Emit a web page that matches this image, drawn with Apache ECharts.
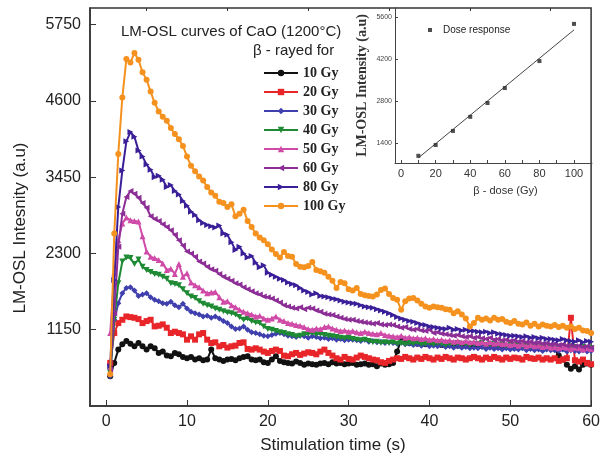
<!DOCTYPE html>
<html>
<head>
<meta charset="utf-8">
<script src="https://cdn.jsdelivr.net/npm/echarts@6/dist/echarts.min.js"></script>
<style>
html, body { margin: 0; padding: 0; background: #fff; }
#chart { width: 603px; height: 458px; }
</style>
</head>
<body>
<div id="chart"></div>
<script>
// stimulation time (s), one reading every 0.5 s
const times = [
  0.5, 1, 1.5, 2, 2.5, 3, 3.5, 4, 4.5, 5,
  5.5, 6, 6.5, 7, 7.5, 8, 8.5, 9, 9.5, 10,
  10.5, 11, 11.5, 12, 12.5, 13, 13.5, 14, 14.5, 15,
  15.5, 16, 16.5, 17, 17.5, 18, 18.5, 19, 19.5, 20,
  20.5, 21, 21.5, 22, 22.5, 23, 23.5, 24, 24.5, 25,
  25.5, 26, 26.5, 27, 27.5, 28, 28.5, 29, 29.5, 30,
  30.5, 31, 31.5, 32, 32.5, 33, 33.5, 34, 34.5, 35,
  35.5, 36, 36.5, 37, 37.5, 38, 38.5, 39, 39.5, 40,
  40.5, 41, 41.5, 42, 42.5, 43, 43.5, 44, 44.5, 45,
  45.5, 46, 46.5, 47, 47.5, 48, 48.5, 49, 49.5, 50,
  50.5, 51, 51.5, 52, 52.5, 53, 53.5, 54, 54.5, 55,
  55.5, 56, 56.5, 57, 57.5, 58, 58.5, 59, 59.5, 60
];

const gy10 = [
  450, 650, 850, 930, 980, 940, 900, 950, 900, 850,
  900, 870, 800, 820, 760, 750, 800, 780, 740, 720,
  740, 700, 720, 690, 700, 850, 720, 700, 680, 700,
  710, 690, 720, 740, 750, 700, 690, 700, 660, 650,
  700, 750, 680, 660, 650, 640, 670, 650, 620, 640,
  630, 620, 640, 650, 630, 660, 640, 650, 630, 640,
  650, 620, 630, 640, 620, 630, 600, 640, 620, 630,
  650, 820, 1000, 980, 950, 970, 940, 960, 930, 950,
  940, 960, 920, 950, 930, 940, 910, 930, 920, 940,
  910, 930, 900, 920, 910, 930, 900, 910, 890, 920,
  900, 910, 890, 900, 880, 900, 890, 880, 870, 890,
  860, 760, 700, 620, 560, 600, 550, 620, 640, 620
];
const gy20 = [
  650, 1100, 1250, 1300, 1350, 1340, 1330, 1310, 1250, 1280,
  1300, 1200, 1210, 1230, 1180, 1100, 1120, 1100, 1080, 1000,
  1050, 1000, 1080, 1100, 1000, 950, 960, 900, 920, 880,
  900, 910, 950, 960, 860, 850, 870, 850, 820, 800,
  830, 850, 830, 760, 750, 780, 800, 770, 790, 810,
  800, 780, 820, 850, 800, 760, 720, 700, 740, 710,
  700, 730, 760, 740, 720, 700, 690, 660, 650, 680,
  700, 720, 710, 740, 720, 700, 730, 710, 740, 720,
  700, 730, 710, 740, 720, 700, 730, 720, 700, 720,
  740, 720, 700, 730, 710, 740, 720, 700, 730, 710,
  730, 720, 700, 740, 720, 710, 730, 700, 720, 700,
  720, 680, 700, 720, 1330, 690, 670, 700, 650, 630
];
const gy30 = [
  450, 1300, 1550, 1700, 1780, 1790, 1740, 1660, 1680, 1700,
  1640, 1600, 1580, 1550, 1540, 1570, 1520, 1490, 1540, 1470,
  1420, 1400, 1380, 1350, 1360, 1330, 1350, 1320, 1280, 1250,
  1200, 1160, 1170, 1200, 1150, 1110, 1100, 1080, 1060, 1050,
  1070, 1090, 1100, 1080, 1060, 1050, 1040, 1060, 1050, 1030,
  1050, 1040, 1020, 1030, 1010, 1020, 1000, 1010, 990, 1000,
  1000, 990, 980, 1000, 970, 980, 960, 970, 950, 960,
  950, 940, 960, 930, 940, 920, 930, 910, 930, 900,
  910, 900, 920, 890, 900, 880, 900, 880, 890, 870,
  880, 870, 890, 860, 880, 860, 870, 850, 870, 850,
  860, 850, 870, 840, 860, 840, 850, 830, 850, 840,
  840, 830, 850, 820, 840, 830, 820, 840, 820, 830
];
const gy40 = [
  500, 1300, 1850, 2180, 2240, 2230, 2140, 2210, 2100, 2050,
  2020, 1990, 1980, 1950, 1920, 1850, 1840, 1820, 1760, 1700,
  1650, 1630, 1580, 1540, 1520, 1500, 1470, 1450, 1430, 1410,
  1400, 1380, 1340, 1300, 1320, 1280, 1260, 1250, 1200, 1160,
  1150, 1130, 1110, 1100, 1080, 1070, 1050, 1060, 1080, 1090,
  1100, 1080, 1090, 1070, 1060, 1050, 1040, 1030, 1020, 1030,
  1010, 1000, 990, 1000, 980, 960, 970, 950, 960, 950,
  960, 940, 950, 930, 950, 940, 960, 930, 940, 950,
  930, 950, 940, 920, 940, 930, 950, 930, 940, 920,
  940, 930, 950, 920, 930, 940, 920, 930, 910, 930,
  920, 930, 910, 920, 900, 920, 910, 900, 920, 900,
  910, 890, 900, 880, 900, 890, 870, 890, 880, 870
];
const gy50 = [
  1100, 2000, 2500, 2750, 2840, 2800, 2790, 2780, 2560, 2330,
  2250, 2230, 2200, 2150, 2050, 2070, 1990, 2140, 1950, 2000,
  1860, 1820, 1790, 1740, 1700, 1710, 1720, 1640, 1570, 1580,
  1520, 1490, 1450, 1420, 1400, 1380, 1350, 1360, 1320, 1300,
  1320, 1350, 1300, 1280, 1250, 1240, 1220, 1210, 1190, 1160,
  1150, 1170, 1160, 1190, 1200, 1170, 1150, 1130, 1140, 1120,
  1130, 1110, 1100, 1120, 1100, 1090, 1080, 1100, 1070, 1060,
  1050, 1040, 1060, 1030, 1040, 1020, 1030, 1010, 1020, 1000,
  1010, 990, 1000, 980, 990, 970, 980, 960, 980, 960,
  970, 950, 960, 940, 960, 940, 950, 930, 940, 920,
  930, 910, 930, 900, 920, 900, 910, 890, 900, 880,
  890, 870, 890, 880, 860, 880, 870, 850, 870, 860
];
const gy60 = [
  550, 1400, 2400, 2900, 3150, 3240, 3200, 3140, 3060, 2990,
  2860, 2820, 2790, 2740, 2700, 2650, 2580, 2500, 2420, 2330,
  2300, 2250, 2180, 2150, 2100, 2060, 2040, 1990, 1950, 1920,
  1890, 1850, 1830, 1790, 1760, 1730, 1700, 1680, 1650, 1640,
  1620, 1590, 1560, 1520, 1500, 1480, 1470, 1490, 1460, 1480,
  1470, 1440, 1420, 1390, 1380, 1370, 1350, 1330, 1310, 1300,
  1300, 1280, 1270, 1260, 1250, 1240, 1250, 1230, 1220, 1230,
  1220, 1200, 1180, 1190, 1160, 1150, 1160, 1140, 1130, 1150,
  1100, 1110, 1090, 1080, 1070, 1060, 1070, 1050, 1040, 1050,
  1030, 1040, 1020, 1010, 1030, 1000, 1010, 990, 1000, 980,
  990, 970, 980, 960, 970, 950, 960, 940, 950, 930,
  940, 920, 930, 910, 920, 900, 910, 890, 900, 880
];
const gy80 = [
  600, 1900, 3000, 3550, 3990, 4130, 4060, 3850, 3760, 3640,
  3560, 3450, 3470, 3410, 3300, 3330, 3240, 3190, 3090, 3020,
  2930, 2880, 2800, 2760, 2730, 2710, 2690, 2720, 2600, 2580,
  2470, 2350, 2400, 2300, 2240, 2260, 2160, 2090, 2120, 2010,
  1980, 1950, 1920, 1900, 1860, 1840, 1820, 1780, 1740, 1720,
  1680, 1700, 1660, 1650, 1640, 1620, 1610, 1590, 1570, 1560,
  1550, 1540, 1520, 1500, 1490, 1480, 1460, 1440, 1420, 1400,
  1370, 1340, 1320, 1300, 1280, 1270, 1250, 1230, 1220, 1200,
  1190, 1180, 1170, 1160, 1180, 1150, 1160, 1140, 1150, 1130,
  1130, 1120, 1110, 1120, 1100, 1110, 1090, 1080, 1070, 1060,
  1060, 1050, 1040, 1050, 1030, 1040, 1020, 1030, 1010, 1010,
  1000, 990, 1010, 990, 980, 970, 990, 960, 980, 970
];
const gy100 = [
  480, 2600, 3800, 4650, 5230, 5180, 5320, 5220, 5030, 4920,
  4740, 4570, 4440, 4360, 4300, 4190, 4100, 4020, 3920, 3760,
  3620, 3540, 3460, 3400, 3300, 3220, 3170, 3080, 3060, 3000,
  3040, 2860, 2900, 2960, 2790, 2700, 2600, 2540, 2500, 2440,
  2360, 2290, 2240, 2320, 2260, 2250, 2140, 2100, 2090, 2110,
  2170, 2050, 2030, 2010, 1950, 1890, 1780, 1870, 1850, 1760,
  1740, 1780, 1690, 1670, 1660, 1650, 1680, 1750, 1770, 1690,
  1630, 1600, 1450, 1580, 1620, 1630, 1590, 1540, 1500, 1480,
  1500, 1490, 1480, 1460, 1450, 1400, 1430, 1380, 1320, 1200,
  1250, 1330, 1300, 1320, 1290, 1330, 1300, 1310, 1270, 1250,
  1280, 1240, 1230, 1260, 1210, 1240, 1200, 1230, 1210, 1200,
  1220, 1190, 1210, 1180, 1200, 1160, 1180, 1140, 1130, 1100
];

const curveNames = ['10 Gy', '20 Gy', '30 Gy', '40 Gy', '50 Gy', '60 Gy', '80 Gy', '100 Gy'];
const curveValues = [gy10, gy20, gy30, gy40, gy50, gy60, gy80, gy100];
const curveColors = ['#111111', '#e8262a', '#3f3fae', '#1e8a34', '#d04aa8', '#8c2e96', '#3b1f99', '#f5921f'];
const curveSymbols = ['circle', 'rect', 'diamond', 'triangle', 'triangle', 'triangle', 'triangle', 'circle'];
const curveRotate = [0, 0, 0, 180, 0, 90, -90, 0];

// inset: dose response
const doses = [10, 20, 30, 40, 50, 60, 80, 100];
const doseResponse = [970, 1330, 1800, 2270, 2730, 3230, 4130, 5370];
const fitDoses = [10, 100];
const fitResponse = [900, 5170];

const mainXLabels = [0, 10, 20, 30, 40, 50, 60];
const mainXMinor = [5, 15, 25, 35, 45, 55];
const mainYLabels = [1150, 2300, 3450, 4600, 5750];
const insetXLabels = [0, 20, 40, 60, 80, 100];
const insetXTicks = [0, 10, 20, 30, 40, 50, 60, 70, 80, 90, 100];
const insetYLabels = [1400, 2800, 4200, 5600];

const chart = echarts.init(document.getElementById('chart'));

const sansFont = 'Liberation Sans, Arial, sans-serif';
const serifFont = 'Liberation Serif, Times New Roman, serif';
const plain = v => String(v);

const series = curveNames.map((name, k) => ({
  name: name,
  type: 'line',
  xAxisIndex: 0,
  yAxisIndex: 0,
  data: times.map((t, i) => [t, curveValues[k][i]]),
  symbol: curveSymbols[k],
  symbolRotate: curveRotate[k],
  symbolSize: 6,
  lineStyle: { width: 2, color: curveColors[k] },
  itemStyle: { color: curveColors[k] },
  z: 2 + k
}));

series.push({
  name: 'Dose response',
  type: 'scatter',
  xAxisIndex: 2,
  yAxisIndex: 1,
  data: doses.map((d, i) => [d, doseResponse[i]]),
  symbol: 'rect',
  symbolSize: 4,
  itemStyle: { color: '#222' },
  z: 5
});
series.push({
  name: 'fit',
  type: 'line',
  xAxisIndex: 2,
  yAxisIndex: 1,
  data: fitDoses.map((d, i) => [d, fitResponse[i]]),
  showSymbol: false,
  lineStyle: { width: 1, color: '#444' },
  z: 4
});

const option = {
  animation: false,
  backgroundColor: '#fff',
  title: [
    {
      text: 'LM-OSL curves of CaO (1200°C)',
      left: 116, top: 19,
      textStyle: { fontFamily: sansFont, fontSize: 15, fontWeight: 'normal', color: '#222' }
    },
    {
      text: 'β - rayed for',
      left: 248, top: 38,
      textStyle: { fontFamily: sansFont, fontSize: 15, fontWeight: 'normal', color: '#222' }
    }
  ],
  legend: [
    {
      data: curveNames,
      orient: 'vertical',
      left: 258, top: 60,
      itemWidth: 34, itemHeight: 8, itemGap: 3,
      textStyle: { fontFamily: serifFont, fontSize: 14, fontWeight: 'bold', color: '#222', lineHeight: 16 }
    },
    {
      data: ['Dose response'],
      left: 423, top: 20,
      itemWidth: 4, itemHeight: 4,
      textStyle: { fontFamily: sansFont, fontSize: 10, color: '#222', padding: [0, 0, 0, 6] }
    }
  ],
  grid: [
    { left: 90, right: 9, top: 8, bottom: 52, show: true, borderColor: '#333', borderWidth: 1.5 },
    { left: 395, top: 8, width: 197, height: 155 }
  ],
  xAxis: [
    {
      type: 'value', gridIndex: 0, min: -2, max: 60,
      axisLine: { onZero: false, lineStyle: { color: '#333', width: 1.5 } },
      axisTick: { inside: true, length: 6, customValues: mainXLabels, lineStyle: { color: '#333' } },
      axisLabel: { customValues: mainXLabels, formatter: plain, fontFamily: sansFont, fontSize: 16, color: '#222', margin: 8 },
      splitLine: { show: false }
    },
    {
      type: 'value', gridIndex: 0, min: -2, max: 60,
      axisLine: { show: false, onZero: false },
      axisTick: { inside: true, length: 3, customValues: mainXMinor, lineStyle: { color: '#333' } },
      axisLabel: { show: false },
      splitLine: { show: false }
    },
    {
      type: 'value', gridIndex: 1, min: -3.5, max: 110.4,
      axisLine: { onZero: false, lineStyle: { color: '#444', width: 1 } },
      axisTick: { inside: true, length: 3, customValues: insetXTicks, lineStyle: { color: '#444' } },
      axisLabel: { customValues: insetXLabels, formatter: plain, fontFamily: sansFont, fontSize: 11, color: '#333', margin: 5 },
      splitLine: { show: false },
      name: 'β - dose (Gy)',
      nameLocation: 'middle',
      nameGap: 22,
      nameTextStyle: { fontFamily: sansFont, fontSize: 11, color: '#333', padding: [0, 0, 0, 24] }
    }
  ],
  yAxis: [
    {
      type: 'value', gridIndex: 0, min: 0, max: 6000,
      axisLine: { onZero: false, lineStyle: { color: '#333', width: 1.5 } },
      axisTick: { inside: true, length: 6, customValues: mainYLabels, lineStyle: { color: '#333' } },
      axisLabel: { customValues: mainYLabels, formatter: plain, fontFamily: sansFont, fontSize: 16, color: '#222', margin: 9 },
      splitLine: { show: false }
    },
    {
      type: 'value', gridIndex: 1, min: 730, max: 5900,
      axisLine: { onZero: false, lineStyle: { color: '#444', width: 1 } },
      axisTick: { inside: true, length: 3, customValues: insetYLabels, lineStyle: { color: '#444' } },
      axisLabel: { customValues: insetYLabels, formatter: plain, fontFamily: sansFont, fontSize: 7, color: '#444', margin: 3 },
      splitLine: { show: false },
      name: 'LM-OSL Intensity (a.u)',
      nameLocation: 'middle',
      nameGap: 26,
      nameTextStyle: { fontFamily: serifFont, fontSize: 14, fontWeight: 'bold', color: '#333' }
    }
  ],
  graphic: [
    {
      type: 'text',
      x: 20, y: 228,
      rotation: Math.PI / 2,
      style: {
        text: 'LM-OSL Intesnity (a.u)',
        fontFamily: sansFont, fontSize: 17, fill: '#222',
        align: 'center', verticalAlign: 'middle'
      }
    },
    {
      type: 'text',
      x: 333, y: 445,
      style: {
        text: 'Stimulation time (s)',
        fontFamily: sansFont, fontSize: 17, fill: '#222',
        align: 'center', verticalAlign: 'middle'
      }
    }
  ],
  series: series
};

chart.setOption(option);
</script>
</body>
</html>
